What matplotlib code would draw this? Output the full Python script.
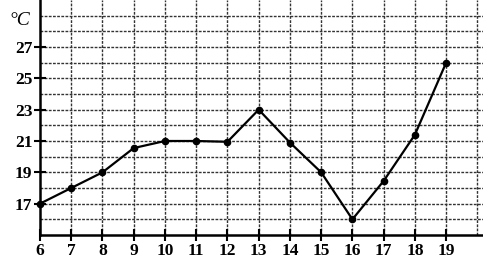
import matplotlib.pyplot as plt

# данные температуры по часам
hours = [6, 7, 8, 9, 10, 11, 12, 13, 14, 15, 16, 17, 18, 19]
temps = [17, 18, 19, 20.55, 21, 21, 20.95, 23, 20.9, 19, 16, 18.45, 21.4, 26]
y_labels = [17, 19, 21, 23, 25, 27]

plt.rcParams['font.family'] = 'Liberation Serif'

fig = plt.figure(figsize=(4.83, 2.58), dpi=100)
ax = fig.add_axes([40 / 483, 23 / 258, 443 / 483, 235 / 258])

ax.set_xlim(6, 20.18)
ax.set_ylim(15, 30)

# сетка пунктиром через каждую единицу
for gx in range(7, 21):
    ax.axvline(gx, color='#333333', linestyle=(0, (2, 1)), linewidth=1.0, zorder=1)
for gy in range(16, 30):
    ax.axhline(gy, color='#333333', linestyle=(0, (2, 1)), linewidth=1.0, zorder=1)

ax.plot(hours, temps, color='black', linewidth=1.6, marker='o', markersize=4.5, clip_on=False, zorder=3)

ax.set_xticks(hours)
ax.set_xticklabels([str(h) for h in hours], fontsize=12.5, fontweight='bold')
ax.set_yticks(y_labels)
ax.set_yticklabels([str(v) for v in y_labels], fontsize=12.5, fontweight='bold')
ax.tick_params(axis='both', direction='inout', length=9, width=1.5, color='black', pad=1)

for side in ['top', 'right']:
    ax.spines[side].set_visible(False)
ax.spines['left'].set_linewidth(1.8)
ax.spines['bottom'].set_linewidth(1.8)

ax.text(5.7, 28.7, '°C', fontsize=14, fontstyle='italic', ha='right', va='center', clip_on=False)

fig.savefig('out.png', dpi=100)
